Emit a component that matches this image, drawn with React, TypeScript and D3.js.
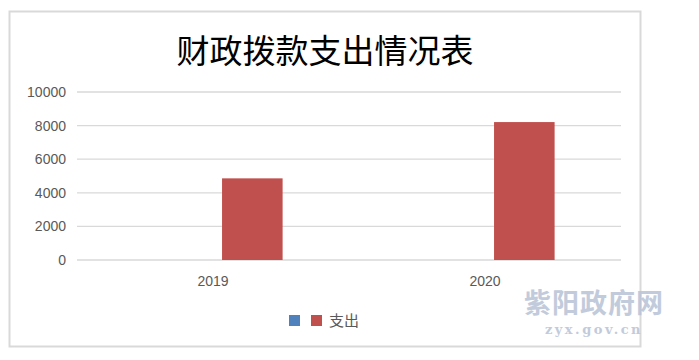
import React from "react";
import * as d3 from "d3";

const categories = ["2019", "2020"];
const seriesNames = ["", "支出"];
const seriesColors = ["#4F81BD", "#C0504D"];
const seriesValues: (number | null)[][] = [
  [null, null],
  [4860, 8210],
];
const yTicks = [0, 2000, 4000, 6000, 8000, 10000];
const title = "财政拨款支出情况表";

export default function App() {
  const W = 699, H = 360;
  const plot = { left: 77, right: 621, top: 92, bottom: 260 };
  const x0 = d3.scaleBand<string>().domain(categories).range([plot.left, plot.right]).padding(0);
  const groupHalf = 69.6;
  const x1 = d3.scaleBand<string>().domain(seriesNames.map((_, i) => String(i))).range([-groupHalf, groupHalf]).paddingInner(0.23).paddingOuter(0);
  const y = d3.scaleLinear().domain([0, 10000]).range([plot.bottom, plot.top]);

  return (
    <svg width={W} height={H} style={{ position: "absolute", left: 0, top: 0, background: "#fff" }}>
      <rect x={0} y={0} width={W} height={H} fill="#fff" />
      <rect x={9.5} y={11.5} width={631} height={335} fill="#fff" stroke="#D9D9D9" strokeWidth={2} />
      <text x={325} y={63} textAnchor="middle" fontFamily="'Noto Sans CJK SC'" fontSize={33} fill="#000">{title}</text>
      {yTicks.map((t) => (
        <g key={t}>
          <line x1={plot.left} x2={plot.right} y1={y(t)} y2={y(t)} stroke="#D9D9D9" strokeWidth={1.3} />
          <text x={66} y={y(t) + 5} textAnchor="end" fontFamily="'Liberation Sans', Arial" fontSize={14} fill="#595959">{t}</text>
        </g>
      ))}
      {categories.map((c, ci) => {
        const cx = (x0(c) as number) + x0.bandwidth() / 2;
        return (
          <g key={c}>
            {seriesValues.map((vals, si) => {
              const v = vals[ci];
              if (v == null) return null;
              const bx = cx + (x1(String(si)) as number);
              return <rect key={si} x={bx} y={y(v)} width={x1.bandwidth()} height={y(0) - y(v)} fill={seriesColors[si]} />;
            })}
            <text x={cx} y={286} textAnchor="middle" fontFamily="'Liberation Sans', Arial" fontSize={14} fill="#595959">{c}</text>
          </g>
        );
      })}
      <g>
        <rect x={289} y={315} width={11} height={11} fill={seriesColors[0]} />
        <rect x={311} y={315} width={11} height={11} fill={seriesColors[1]} />
        <text x={329} y={326} fontFamily="'Noto Sans CJK SC'" fontSize={15} fill="#595959">{seriesNames[1]}</text>
      </g>
      <g opacity={0.85}>
        <text x={594} y={313} textAnchor="middle" fontFamily="'Noto Sans CJK SC'" fontWeight="bold" fontSize={27} fill="#B7C3D6" letterSpacing={1}>紫阳政府网</text>
        <text x={594} y={334} textAnchor="middle" fontFamily="'DejaVu Serif'" fontWeight="bold" fontSize={13} fill="#B7C3D6" letterSpacing={2.5}>zyx.gov.cn</text>
      </g>
    </svg>
  );
}
